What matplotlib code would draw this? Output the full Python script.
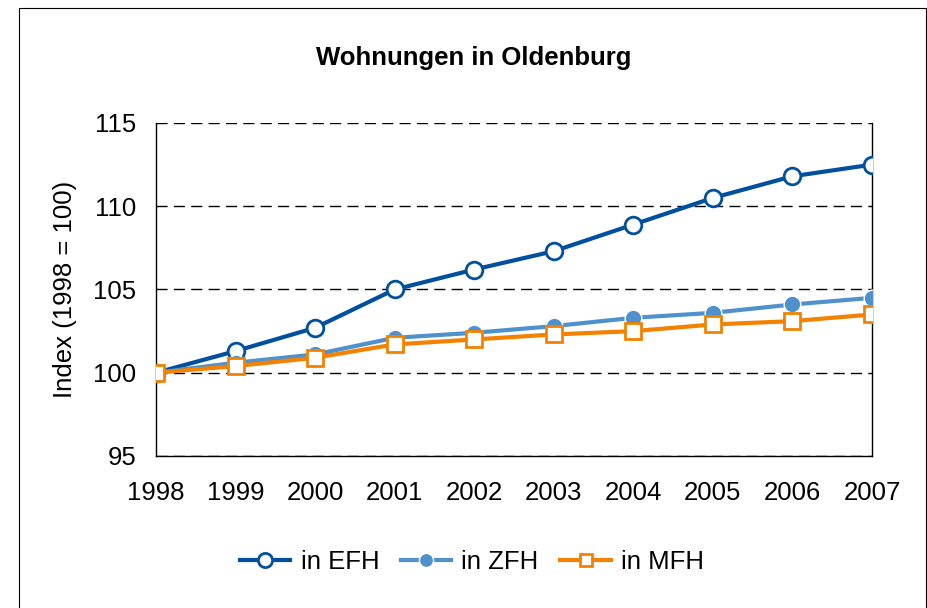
import matplotlib
matplotlib.use("Agg")
import matplotlib.pyplot as plt
from matplotlib.patches import Rectangle

plt.rcParams['font.family'] = ['Liberation Sans', 'DejaVu Sans']

years = [1998, 1999, 2000, 2001, 2002, 2003, 2004, 2005, 2006, 2007]
efh = [100, 101.3, 102.7, 105.0, 106.2, 107.3, 108.9, 110.5, 111.8, 112.5]
zfh = [100, 100.6, 101.1, 102.1, 102.4, 102.8, 103.3, 103.6, 104.1, 104.5]
mfh = [100, 100.4, 100.9, 101.7, 102.0, 102.3, 102.5, 102.9, 103.1, 103.5]
labels = ["in EFH", "in ZFH", "in MFH"]
yticks = [95, 100, 105, 110, 115]

fs = 18.5

fig = plt.figure(figsize=(9.28, 6.08), dpi=100)
fig.patches.append(Rectangle((19/928, -0.01), (926-19)/928, 1 - 8/608 + 0.01,
                             transform=fig.transFigure, fill=False,
                             edgecolor='black', linewidth=0.8))
ax = fig.add_axes([156/928, 1-456/608, (872-156)/928, (456-123)/608])

c_efh = '#00509E'
c_zfh = '#4F91CD'
c_mfh = '#F28200'

ax.plot(years, efh, color=c_efh, lw=3, marker='o', ms=12, mfc='white',
        mec=c_efh, mew=2, label=labels[0], zorder=3)
ax.plot(years, zfh, color=c_zfh, lw=3, marker='o', ms=12, mfc=c_zfh,
        mec='white', mew=1, label=labels[1], zorder=4)
ax.plot(years, mfh, color=c_mfh, lw=3, marker='s', ms=11, mfc='white',
        mec=c_mfh, mew=2, label=labels[2], zorder=5)

ax.set_xlim(1998, 2007)
ax.set_ylim(95, 115)
ax.set_yticks(yticks)
ax.set_xticks(years)
ax.yaxis.grid(True, linestyle=(0, (8, 4.5)), color='black', lw=1)
ax.set_axisbelow(True)
ax.spines['top'].set_visible(False)
for s in ['left', 'right', 'bottom']:
    ax.spines[s].set_color('black')
    ax.spines[s].set_linewidth(1)
ax.tick_params(axis='both', length=0, labelsize=fs)
ax.tick_params(axis='x', pad=18)
ax.tick_params(axis='y', pad=14)
for lab in ax.get_xticklabels() + ax.get_yticklabels():
    lab.set_clip_on(False)
ax.set_ylabel("Index (1998 = 100)", fontsize=fs, labelpad=12)

fig.text(474/928, 1-58/608, "Wohnungen in Oldenburg", ha='center', va='center',
         fontsize=18.5, fontweight='bold')

fig.legend(loc='center', bbox_to_anchor=(472/928, 1-562/608), ncol=3,
           frameon=False, fontsize=fs, handlelength=1.95, columnspacing=0.85,
           handletextpad=0.4, markerscale=0.85)

fig.savefig("out.png", dpi=100)
